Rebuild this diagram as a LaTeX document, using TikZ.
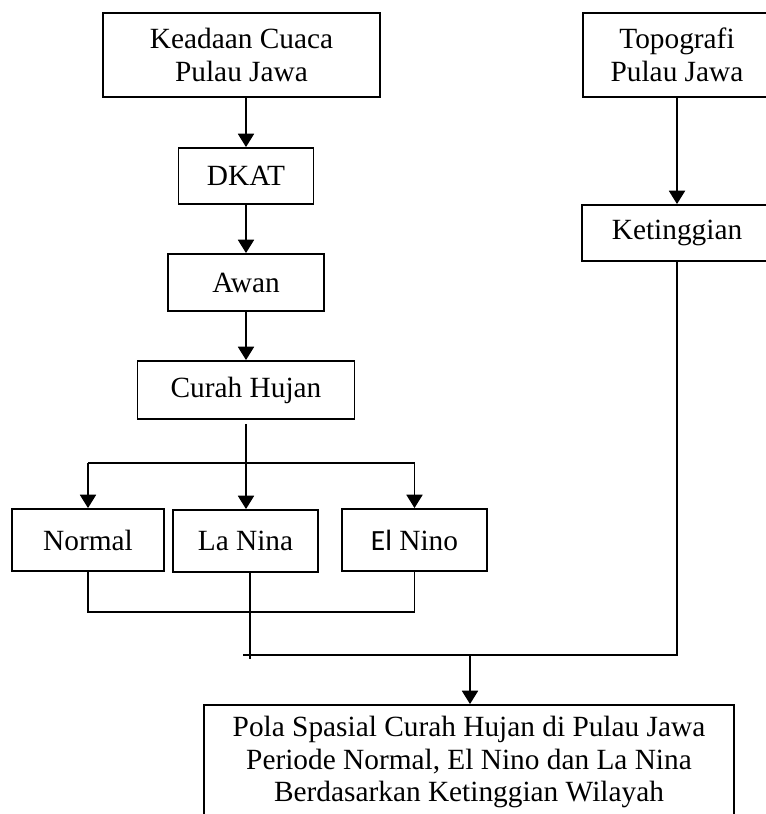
\documentclass[tikz,border=0pt]{standalone}
\usepackage{fontspec}
\setmainfont{Liberation Serif}
\newfontfamily\calibrifont{Carlito}
\usetikzlibrary{arrows.meta}
\begin{document}
\begin{tikzpicture}[
		x=0.75pt, y=-0.75pt,
		every node/.style={draw, line width=1.4pt, align=center, inner sep=0,
			font=\fontsize{22}{24.5}\selectfont},
		link/.style={line width=1.4pt},
		arr/.style={link, -{Triangle[length=10pt, width=12pt]}},
	]
	\useasboundingbox (0,0) rectangle (765,814);
	% left column
	\node[minimum width=277*0.75pt, minimum height=84*0.75pt] (cuaca) at (241.5,55) {Keadaan Cuaca\\Pulau Jawa};
	\node[minimum width=135*0.75pt, minimum height=56*0.75pt] (dkat) at (246,176) {DKAT};
	\node[minimum width=156*0.75pt, minimum height=57*0.75pt] (awan) at (246,282.5) {Awan};
	\node[minimum width=217*0.75pt, minimum height=58*0.75pt] (hujan) at (246,390) {Curah Hujan};
	\node[minimum width=152*0.75pt, minimum height=62*0.75pt] (normal) at (88,540) {Normal};
	\node[minimum width=145*0.75pt, minimum height=62*0.75pt] (lanina) at (245.5,541) {La Nina};
	\node[minimum width=145*0.75pt, minimum height=62*0.75pt] (elnino) at (414.5,540) {{\calibrifont El} Nino};
	% right column
	\node[minimum width=188*0.75pt, minimum height=84*0.75pt] (topo) at (677,55) {Topografi\\Pulau Jawa};
	\node[minimum width=190*0.75pt, minimum height=56*0.75pt] (tinggi) at (677,233) {Ketinggian};
	% result
	\node[minimum width=530*0.75pt, minimum height=114*0.75pt] (pola) at (469,762)
		{Pola Spasial Curah Hujan di Pulau Jawa\\Periode Normal, El Nino dan La Nina\\Berdasarkan Ketinggian Wilayah};
	% junctions
	\coordinate (split) at (246,463);
	\coordinate (merge) at (250,612);
	\coordinate (join) at (470,655);
	\draw[arr] (cuaca.south -| dkat) -- (dkat.north);
	\draw[arr] (dkat) -- (awan);
	\draw[arr] (awan) -- (hujan);
	\draw[arr] ([yshift=-3pt]hujan.south) -- (hujan.south |- lanina.north);
	\draw[link] (split -| normal) -- (split -| elnino);
	\draw[arr] (split -| normal) -- (normal.north);
	\draw[arr] (split -| elnino) -- (elnino.north);
	\draw[arr] (topo) -- (tinggi);
	\draw[link] (normal.south) |- (merge -| elnino) -- (elnino.south);
	\draw[link] (lanina.south -| merge) -- ([yshift=-3pt]join -| merge);
	\draw[link] ([xshift=-5pt]join -| merge) -- (join -| tinggi) -- (tinggi.south);
	\draw[arr] (join) -- (join |- pola.north);
\end{tikzpicture}
\end{document}
